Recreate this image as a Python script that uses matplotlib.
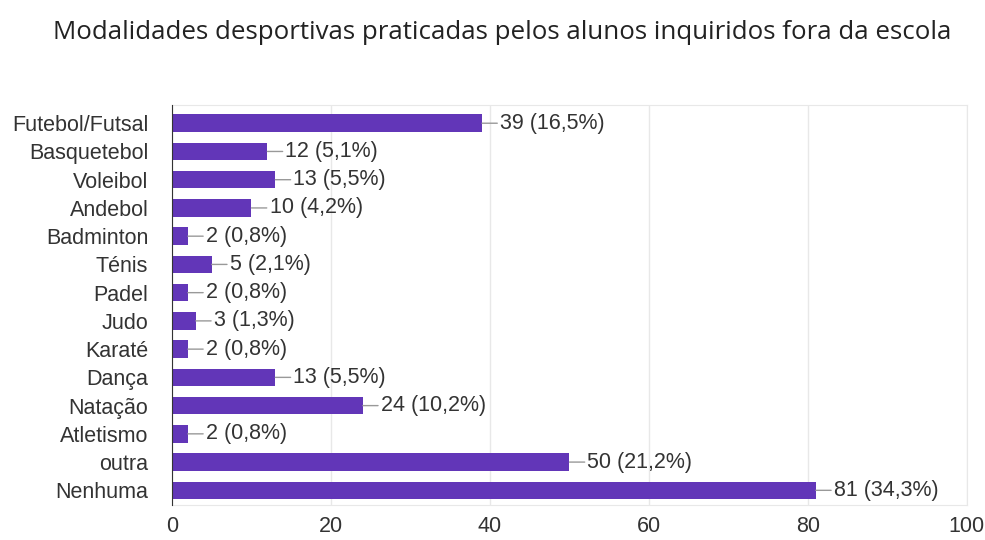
import matplotlib
matplotlib.use('Agg')
import matplotlib.pyplot as plt

categorias = ['Futebol/Futsal', 'Basquetebol', 'Voleibol', 'Andebol', 'Badminton',
              'Ténis', 'Padel', 'Judo', 'Karaté', 'Dança', 'Natação', 'Atletismo',
              'outra', 'Nenhuma']
valores = [39, 12, 13, 10, 2, 5, 2, 3, 2, 13, 24, 2, 50, 81]
percentagens = ['16,5', '5,1', '5,5', '4,2', '0,8', '2,1', '0,8', '1,3', '0,8',
                '5,5', '10,2', '0,8', '21,2', '34,3']
ticks_x = [0, 20, 40, 60, 80, 100]

cor_barra = '#6236b8'

fig = plt.figure(figsize=(9.85, 5.4), dpi=100)
ax = fig.add_axes([0.1746, 0.0648, 0.807, 0.741])

posicoes = list(range(len(categorias)))
ax.barh(posicoes, valores, height=0.62, color=cor_barra, zorder=3)

# rótulos com pequena linha de ligação
for pos, v, p in zip(posicoes, valores, percentagens):
    ax.annotate(f'{v} ({p}%)', xy=(v, pos), xytext=(13, 0), textcoords='offset points',
                ha='left', va='center', fontsize=15.5, family='Liberation Sans',
                color='#333333',
                arrowprops=dict(arrowstyle='-', color='#999999', lw=1,
                                shrinkA=0, shrinkB=0))

ax.set_xlim(0, 100)
ax.set_ylim(len(categorias) - 0.5 + 0.02, -0.65)
ax.set_xticks(ticks_x)
ax.set_yticks(posicoes)
ax.set_yticklabels(categorias)
ax.tick_params(axis='both', length=0, labelsize=15.5, colors='#333333')
ax.tick_params(axis='y', pad=17)
ax.tick_params(axis='x', pad=8)
for lbl in ax.get_xticklabels() + ax.get_yticklabels():
    lbl.set_family('Liberation Sans')

ax.grid(axis='x', color='#e8e8e8', lw=1, zorder=0)
for s in ['top', 'right', 'bottom']:
    ax.spines[s].set_color('#e8e8e8')
ax.spines['left'].set_color('#333333')
ax.spines['left'].set_zorder(4)

fig.text(0.51, 0.94, 'Modalidades desportivas praticadas pelos alunos inquiridos fora da escola',
         ha='center', va='center', fontsize=18.6, family='Open Sans', color='#222222')

plt.savefig('out.png', dpi=100)
plt.close()
